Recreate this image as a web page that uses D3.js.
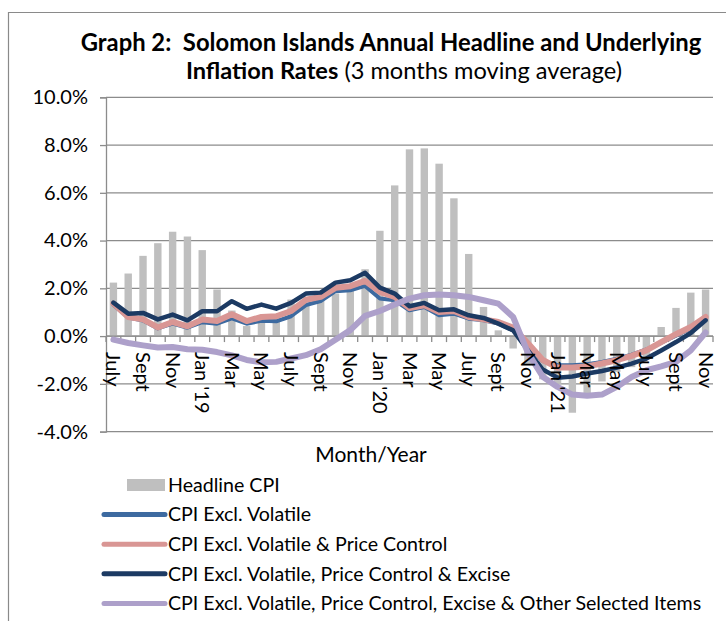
<!DOCTYPE html>
<html>
<head>
<meta charset="utf-8">
<script src="https://cdn.jsdelivr.net/npm/d3@7"></script>
<style>
  body { margin: 0; background: #fff; }
  svg text { font-family: Lato, "Noto Sans", sans-serif; fill: #000; }
</style>
</head>
<body>
<div id="chart"></div>
<script>
// months July 2018 .. Nov 2021
var months = ["Jul-18","Aug-18","Sep-18","Oct-18","Nov-18","Dec-18",
  "Jan-19","Feb-19","Mar-19","Apr-19","May-19","Jun-19","Jul-19","Aug-19","Sep-19","Oct-19","Nov-19","Dec-19",
  "Jan-20","Feb-20","Mar-20","Apr-20","May-20","Jun-20","Jul-20","Aug-20","Sep-20","Oct-20","Nov-20","Dec-20",
  "Jan-21","Feb-21","Mar-21","Apr-21","May-21","Jun-21","Jul-21","Aug-21","Sep-21","Oct-21","Nov-21"];

var tickLabels = ["July","","Sept","","Nov","",
  "Jan '19","","Mar","","May","","July","","Sept","","Nov","",
  "Jan '20","","Mar","","May","","July","","Sept","","Nov","",
  "Jan '21","","Mar","","May","","July","","Sept","","Nov"];

var headlineCPI = [2.24, 2.62, 3.36, 3.89, 4.37, 4.17,
  3.60, 1.95, 1.07, 0.42, 0.87, 0.80, 1.53, 1.30, 1.50, 1.78, 1.99, 2.80,
  4.41, 6.31, 7.82, 7.86, 7.22, 5.77, 3.44, 1.22, 0.24, -0.52, -1.20, -1.81,
  -2.00, -3.21, -2.40, -1.90, -1.50, -1.30, -0.90, 0.38, 1.18, 1.82, 1.95];

var exclVolatile = [1.30, 0.78, 0.65, 0.32, 0.52, 0.35,
  0.58, 0.52, 0.74, 0.52, 0.64, 0.62, 0.83, 1.30, 1.47, 1.88, 1.92, 2.10,
  1.57, 1.50, 1.08, 1.22, 0.87, 0.94, 0.73, 0.66, 0.52, 0.24, -0.45, -1.05,
  -1.22, -1.22, -1.18, -1.08, -0.95, -0.78, -0.56, -0.28, 0.02, 0.32, 0.72];

var exclVolPrice = [1.36, 0.80, 0.70, 0.36, 0.59, 0.41,
  0.69, 0.63, 0.91, 0.63, 0.80, 0.83, 1.05, 1.52, 1.64, 2.02, 2.09, 2.31,
  1.85, 1.64, 1.17, 1.29, 1.01, 1.05, 0.80, 0.70, 0.59, 0.36, -0.30, -1.00,
  -1.32, -1.32, -1.27, -1.15, -1.01, -0.83, -0.60, -0.25, 0.08, 0.38, 0.80];

var exclVolPriceExcise = [1.40, 0.94, 0.97, 0.70, 0.90, 0.66,
  1.04, 1.04, 1.46, 1.14, 1.32, 1.15, 1.39, 1.78, 1.82, 2.24, 2.34, 2.65,
  2.03, 1.78, 1.25, 1.39, 1.08, 1.12, 0.87, 0.76, 0.52, 0.24, -0.60, -1.40,
  -1.74, -1.69, -1.57, -1.46, -1.32, -1.15, -0.94, -0.60, -0.25, 0.13, 0.66];

var exclVolPriceExciseOther = [-0.15, -0.29, -0.39, -0.48, -0.46, -0.55,
  -0.57, -0.67, -0.81, -1.00, -1.10, -1.08, -0.94, -0.80, -0.55, -0.15, 0.25, 0.85,
  1.05, 1.32, 1.57, 1.71, 1.74, 1.71, 1.64, 1.50, 1.36, 0.80, -0.70, -1.70,
  -2.13, -2.45, -2.50, -2.45, -2.13, -1.71, -1.43, -1.27, -1.08, -0.60, 0.15];

var yTicks = [-4, -2, 0, 2, 4, 6, 8, 10];

var w = 726, h = 621;
var plotLeft = 106, plotRight = 713, plotTop = 97.3, plotBottom = 431.6;

var svg = d3.select("#chart").append("svg")
  .attr("width", w).attr("height", h);

// outer frame
svg.append("path")
  .attr("d", "M8.5,621 V12.5 H726")
  .attr("fill", "none").attr("stroke", "#8a8a8a").attr("stroke-width", 1.2);

var x = d3.scaleBand().domain(months).range([plotLeft, plotRight])
  .paddingInner(0.5).paddingOuter(0.25);
var y = d3.scaleLinear().domain([-4, 10]).range([plotBottom, plotTop]);
var step = x.step();

// gridlines
svg.append("g").selectAll("line").data(yTicks).enter().append("line")
  .attr("x1", plotLeft).attr("x2", plotRight)
  .attr("y1", function(d) { return y(d); })
  .attr("y2", function(d) { return y(d); })
  .attr("stroke", "#8c8c8c").attr("stroke-width", 1.3);

// y axis
var yAxis = svg.append("g").attr("transform", "translate(" + plotLeft + ",0)")
  .call(d3.axisLeft(y).tickValues(yTicks)
    .tickFormat(function(d) { return d.toFixed(1) + "%"; })
    .tickSize(6).tickPadding(12));
yAxis.selectAll("path, line").attr("stroke", "#8c8c8c").attr("stroke-width", 1.3);
yAxis.selectAll("text").style("font-size", "20px").style("font-family", "Lato").attr("fill", "#000");

// bars
svg.append("g").selectAll("rect").data(months).enter().append("rect")
  .attr("x", function(d) { return x(d); })
  .attr("width", x.bandwidth())
  .attr("y", function(d, i) { return y(Math.max(0, headlineCPI[i])); })
  .attr("height", function(d, i) { return Math.abs(y(headlineCPI[i]) - y(0)); })
  .attr("fill", "#bfbfbf");

// x axis line and month ticks
var xAxis = svg.append("g").attr("transform", "translate(0," + y(0) + ")");
xAxis.append("line").attr("x1", plotLeft).attr("x2", plotRight)
  .attr("stroke", "#8c8c8c").attr("stroke-width", 1.3);
xAxis.selectAll("line.tk").data(d3.range(months.length + 1)).enter().append("line")
  .attr("class", "tk")
  .attr("x1", function(i) { return plotLeft + i * step; })
  .attr("x2", function(i) { return plotLeft + i * step; })
  .attr("y1", 0).attr("y2", 6)
  .attr("stroke", "#8c8c8c").attr("stroke-width", 1.3);

// lines
var series = [
  { name: "CPI Excl. Volatile", values: exclVolatile, color: "#3d6aa0", width: 4 },
  { name: "CPI Excl. Volatile & Price Control", values: exclVolPrice, color: "#d99694", width: 6 },
  { name: "CPI Excl. Volatile, Price Control & Excise", values: exclVolPriceExcise, color: "#1c3a63", width: 4.5 },
  { name: "CPI Excl. Volatile, Price Control, Excise & Other Selected Items", values: exclVolPriceExciseOther, color: "#ada0ca", width: 6 }
];

var line = d3.line()
  .x(function(d, i) { return x(months[i]) + x.bandwidth() / 2; })
  .y(function(d) { return y(d); });

series.forEach(function(s) {
  svg.append("path").datum(s.values)
    .attr("d", line)
    .attr("fill", "none")
    .attr("stroke", s.color)
    .attr("stroke-width", s.width)
    .attr("stroke-linejoin", "round")
    .attr("stroke-linecap", "round");
});

// month labels (rotated)
svg.append("g").selectAll("text").data(months).enter().append("text")
  .attr("transform", function(d) {
    return "translate(" + (x(d) + x.bandwidth() / 2) + "," + (y(0) + 16) + ") rotate(90)";
  })
  .attr("dy", "0.35em")
  .style("font-size", "20px")
  .text(function(d, i) { return tickLabels[i]; });

// title
svg.append("text").attr("x", 391).attr("y", 51)
  .attr("text-anchor", "middle").style("font-size", "23.8px").style("font-weight", "bold")
  .style("white-space", "pre")
  .text("Graph 2:  Solomon Islands Annual Headline and Underlying");
var t2 = svg.append("text").attr("x", 404).attr("y", 79)
  .attr("text-anchor", "middle").style("font-size", "23.6px");
t2.append("tspan").style("font-weight", "bold").text("Inflation Rates");
t2.append("tspan").text(" (3 months moving average)");

// axis title
svg.append("text").attr("x", 371).attr("y", 462)
  .attr("text-anchor", "middle").style("font-size", "21px")
  .text("Month/Year");

// legend
var legendTop = 485, legendGap = 29.6, symX0 = 104, symX1 = 165, textX = 168;
var lg = svg.append("g");
lg.append("rect").attr("x", symX0 + 23).attr("y", legendTop - 6)
  .attr("width", symX1 - symX0 - 23).attr("height", 12).attr("fill", "#bfbfbf");
lg.append("text").attr("x", textX).attr("y", legendTop).attr("dy", "0.35em")
  .style("font-size", "19.6px").text("Headline CPI");

series.forEach(function(s, i) {
  var yy = legendTop + (i + 1) * legendGap;
  lg.append("line").attr("x1", symX0).attr("x2", symX1)
    .attr("y1", yy).attr("y2", yy)
    .attr("stroke", s.color).attr("stroke-width", 5).attr("stroke-linecap", "round");
  lg.append("text").attr("x", textX).attr("y", yy).attr("dy", "0.35em")
    .style("font-size", "19.6px").text(s.name);
});
</script>
</body>
</html>
